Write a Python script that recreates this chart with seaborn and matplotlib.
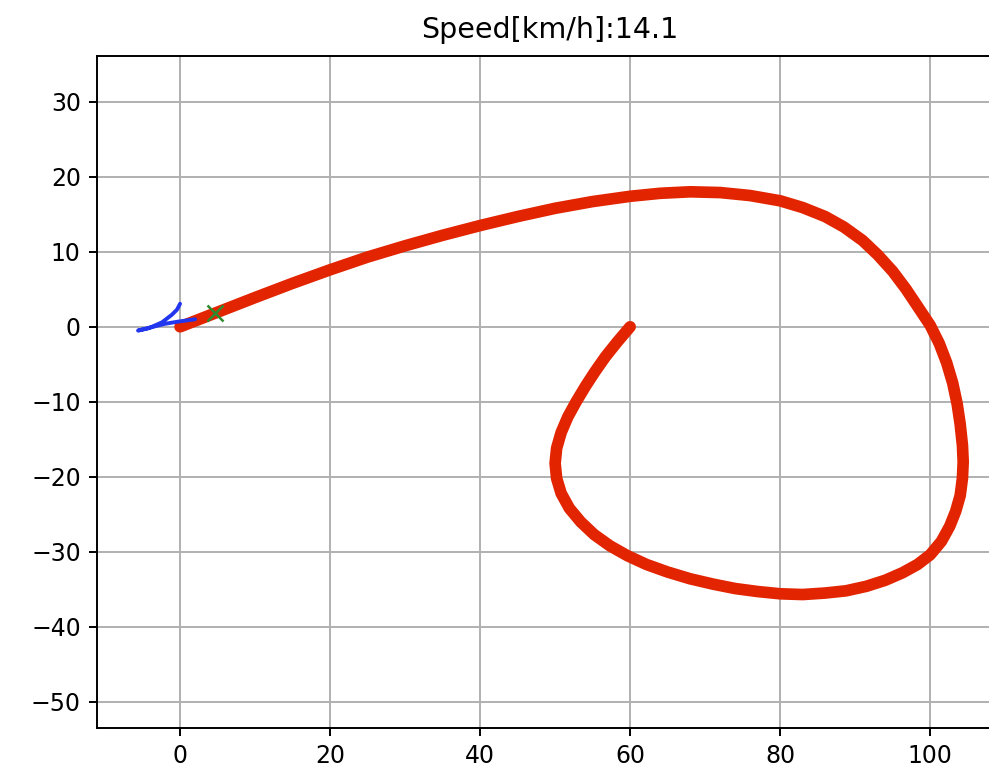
import numpy as np
import pandas as pd
import matplotlib
matplotlib.use("Agg")
import matplotlib.pyplot as plt
import seaborn as sns

# Reference course (x, y) in metres
course_x = [0.0, 5.0, 10.0, 15.0, 20.0, 25.0, 30.0, 35.0, 40.0, 45.0, 50.0, 55.0,
            60.0, 64.0, 68.0, 72.0, 76.0, 80.0, 83.0, 86.0, 88.5, 91.0, 93.0,
            95.0, 96.8, 98.4, 100.0, 101.2, 102.2, 103.0, 103.6, 104.0, 104.3,
            104.4, 104.3, 104.0, 103.4, 102.6, 101.5, 100.0, 98.3, 96.3, 94.0,
            91.5, 88.8, 86.0, 83.0, 80.0, 77.0, 74.0, 71.0, 68.0, 65.0, 62.2,
            59.6, 57.3, 55.2, 53.4, 51.9, 50.8, 50.2, 50.0, 50.2, 50.8, 51.7,
            52.8, 54.0, 55.3, 56.7, 58.3, 60.0]
course_y = [0.0, 1.95, 3.9, 5.8, 7.6, 9.3, 10.8, 12.2, 13.5, 14.7, 15.8, 16.7,
            17.4, 17.8, 18.0, 17.9, 17.5, 16.8, 15.9, 14.7, 13.3, 11.5, 9.6,
            7.4, 5.0, 2.6, 0.2, -2.2, -4.8, -7.5, -10.3, -13.0, -15.8,
            -18.0, -20.2, -22.5, -24.6, -26.6, -28.6, -30.4, -31.7, -32.8, -33.8,
            -34.6, -35.2, -35.5, -35.7, -35.6, -35.3, -34.9, -34.3, -33.6, -32.7,
            -31.7, -30.5, -29.2, -27.7, -26.0, -24.2, -22.2, -20.2, -18.2, -16.2,
            -14.1, -12.0, -10.0, -8.0, -6.0, -4.0, -2.0, 0.0]

# Vehicle trajectory driven so far
traj_x = [0.0, -0.4, -1.1, -2.4, -4.2, -5.6, -4.0, -2.0, -0.2, 2.0]
traj_y = [3.07, 2.3, 1.6, 0.6, -0.2, -0.5, -0.1, 0.4, 0.7, 1.0]

# Current target point on the course
target_x = [4.7]
target_y = [1.8]

speed_kmh = 14.1
x_ticks = [0, 20, 40, 60, 80, 100]
y_ticks = [-50, -40, -30, -20, -10, 0, 10, 20, 30]

sns.set_theme(style="whitegrid")
plt.rcParams["font.family"] = ["DejaVu Sans"]
plt.rcParams["axes.unicode_minus"] = True

fig = plt.figure(figsize=(9.89, 7.70), dpi=100)
ax = fig.add_axes([0.0981, 0.0545, 0.916, 0.8727])
ax.set_facecolor("white")

course = pd.DataFrame({"x": course_x, "y": course_y})
traj = pd.DataFrame({"x": traj_x, "y": traj_y})

sns.lineplot(data=course, x="x", y="y", sort=False, estimator=None,
             color="#e32400", linewidth=8.4, ax=ax)
sns.lineplot(data=traj, x="x", y="y", sort=False, estimator=None,
             color="#2236ee", linewidth=2.8, ax=ax)
for ln in ax.lines:
    ln.set_solid_capstyle("round")
    ln.set_solid_joinstyle("round")
ax.plot(target_x, target_y, marker="x", color="#2e8b2e", markersize=11,
        markeredgewidth=1.8, linestyle="none")

ax.set_xlim(-11.07, 109.7)
ax.set_ylim(-53.5, 36.1)
ax.set_xticks(x_ticks)
ax.set_yticks(y_ticks)
ax.set_xlabel("")
ax.set_ylabel("")

ax.grid(True, color="#b0b0b0", linewidth=1.4)
for side, sp in ax.spines.items():
    sp.set_color("black")
    sp.set_linewidth(1.4)
ax.tick_params(axis="both", which="major", direction="out", length=5.8,
               width=1.4, color="black", labelsize=17, pad=5.9,
               bottom=True, left=True, labelcolor="black")

ax.set_title(f"Speed[km/h]:{speed_kmh}", fontsize=20.5, color="black", pad=13)

fig.savefig("out.png", dpi=100, facecolor="white")
